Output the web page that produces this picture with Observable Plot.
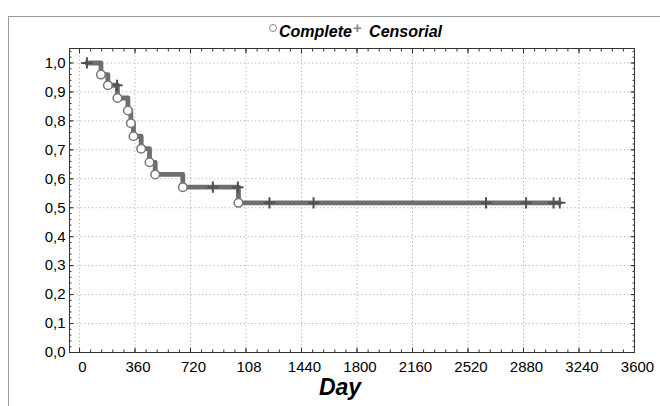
<!DOCTYPE html>
<html><head><meta charset="utf-8">
<script src="https://cdn.jsdelivr.net/npm/d3@7"></script>
<script src="https://cdn.jsdelivr.net/npm/@observablehq/plot@0.6"></script>
<style>
body{margin:0;background:#fff;}
#wrap{position:relative;width:660px;height:406px;overflow:hidden;font-family:"Liberation Sans",Arial,sans-serif;}
#border{position:absolute;left:8px;top:16px;width:700px;height:420px;border-left:1px solid #999;border-top:1px solid #999;}
#legend{position:absolute;top:23px;left:269px;white-space:nowrap;font-weight:bold;font-style:italic;font-size:16px;color:#000;}
#legend .c{display:inline-block;width:6px;height:6px;border:1.3px solid #888;border-radius:50%;vertical-align:top;margin-top:1px;margin-right:2px;}
#legend .p{font-style:normal;font-weight:bold;color:#888;font-size:15px;vertical-align:top;position:relative;top:-4px;margin-left:1px;margin-right:3px;}
#chart{position:absolute;left:0;top:0;}
</style></head><body>
<div id="wrap"><div id="border"></div><div id="chart"></div>
<div id="legend"><span class="c"></span>Complete<span class="p">+</span> Censorial</div></div>
<script>
const eventDays = [139, 184, 246, 314, 333, 350, 400, 454, 491, 670, 1031];
const eventSurv = [0.96, 0.923, 0.879, 0.836, 0.792, 0.747, 0.704, 0.657, 0.615, 0.571, 0.517];
const censorDays = [48, 243, 865, 1027, 1232, 1518, 2637, 2897, 3075, 3115];
const censorSurv = [1.0, 0.923, 0.571, 0.571, 0.517, 0.517, 0.517, 0.517, 0.517, 0.517];
const xTicks = [0, 360, 720, 1080, 1440, 1800, 2160, 2520, 2880, 3240, 3600];
const xTickLabels = ["0", "360", "720", "108", "1440", "1800", "2160", "2520", "2880", "3240", "3600"];
const yTicks = [0, 0.1, 0.2, 0.3, 0.4, 0.5, 0.6, 0.7, 0.8, 0.9, 1.0];
const yTickLabels = ["0,0", "0,1", "0,2", "0,3", "0,4", "0,5", "0,6", "0,7", "0,8", "0,9", "1,0"];
const xMinor = d3.range(0, 3601, 72);
const yMinor = d3.range(0, 53).map(i => i * 0.02);

const events = eventDays.map((d, i) => ({day: d, s: eventSurv[i]}));
const censored = censorDays.map((d, i) => ({day: d, s: censorSurv[i]}));
const curve = [{day: censorDays[0], s: censorSurv[0]}, ...events,
  {day: censorDays[censorDays.length - 1], s: censorSurv[censorSurv.length - 1]}];

const axisStyle = {stroke: "#333", strokeWidth: 1, label: null};
const plot = Plot.plot({
  width: 660, height: 406,
  marginLeft: 69, marginRight: 26, marginTop: 48, marginBottom: 54,
  style: {fontFamily: "'Liberation Sans', Arial, sans-serif", fontSize: "15px", color: "#000", background: "transparent"},
  x: {domain: [-65, 3600]},
  y: {domain: [0, 1.05]},
  marks: [
    Plot.gridX(xTicks, {stroke: "#b0b0b0", strokeOpacity: 1, strokeDasharray: "1.2,2.6"}),
    Plot.gridY(yTicks, {stroke: "#b0b0b0", strokeOpacity: 1, strokeDasharray: "1.2,2.6"}),
    Plot.axisX(xMinor, {anchor: "bottom", tickSize: -2.5, text: null, ...axisStyle}),
    Plot.axisX(xTicks, {anchor: "bottom", tickSize: -4.5, text: null, ...axisStyle}),
    Plot.axisX(xMinor, {anchor: "top", tickSize: -2.5, text: null, ...axisStyle}),
    Plot.axisX(xTicks, {anchor: "top", tickSize: -4.5, text: null, ...axisStyle}),
    Plot.axisY(yMinor, {anchor: "left", tickSize: -2.5, text: null, ...axisStyle}),
    Plot.axisY(yTicks, {anchor: "left", tickSize: -4.5, text: null, ...axisStyle}),
    Plot.axisY(yMinor, {anchor: "right", tickSize: -2.5, text: null, ...axisStyle}),
    Plot.axisY(yTicks, {anchor: "right", tickSize: -4.5, text: null, ...axisStyle}),
    Plot.axisX(xTicks, {anchor: "bottom", tickSize: 0, tickPadding: 9, label: null, dx: 3,
      tickFormat: d => xTickLabels[xTicks.indexOf(d)], fontSize: 15}),
    Plot.axisY(yTicks, {anchor: "left", tickSize: 0, tickPadding: 4, label: null,
      tickFormat: d => yTickLabels[yTicks.indexOf(d)], fontSize: 15}),
    Plot.frame({stroke: "#333"}),
    Plot.line(curve, {x: "day", y: "s", curve: "step-after", stroke: "#6e6e6e", strokeWidth: 4.8}),
    Plot.dot(censored, {x: "day", y: "s", symbol: "plus", r: 3.7, stroke: "#505050", strokeWidth: 2}),
    Plot.dot(events, {x: "day", y: "s", r: 4.3, fill: "white", stroke: "#777", strokeWidth: 1.5}),
    Plot.text(["Day"], {frameAnchor: "bottom", dy: 42, dx: -12, text: d => d, fontSize: 23, fontWeight: "bold", fontStyle: "italic"})
  ]
});
document.getElementById("chart").appendChild(plot);
</script>
</body></html>
